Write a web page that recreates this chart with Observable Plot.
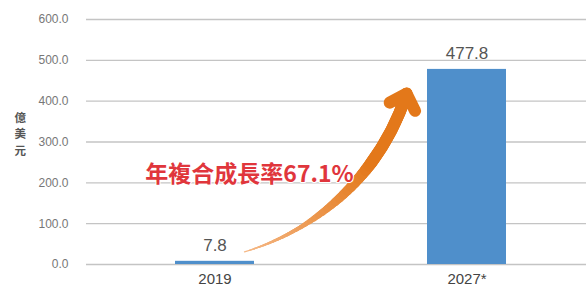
<!DOCTYPE html>
<html><head><meta charset="utf-8">
<script src="https://cdn.jsdelivr.net/npm/d3@7"></script>
<script src="https://cdn.jsdelivr.net/npm/@observablehq/plot@0.6"></script>
<style>
body{margin:0;background:#fff;}
#chart{width:586px;height:288px;overflow:hidden;}
</style></head><body><div id="chart"></div>
<script>
const years = ["2019", "2027*"];
const values = [7.8, 477.8];
const yTicks = [0, 100, 200, 300, 400, 500, 600];
const yLabel = "億美元";
const cagrText = "年複合成長率67.1%";

const data = years.map((year, i) => ({year, value: values[i]}));
const link = [{x1: years[0], y1: values[0], x2: years[1], y2: values[1]}];

const cjk = '"Noto Sans CJK TC", "Noto Sans CJK SC", sans-serif';
const num = '"Liberation Sans", Arial, sans-serif';

// tapered orange arrow built from stacked arcs
const widthAt = d3.scaleLinear().domain([84, 140, 190, 232]).range([1.2, 4, 9, 12]).clamp(true);
const colorAt = d3.scaleLinear().domain([84, 232]).range(["#f5b886", "#e3781a"]).interpolate(d3.interpolateRgb).clamp(true);
const arrowCommon = {x1: "x1", y1: "y1", x2: "x2", y2: "y2", bend: -40.8, dx: -54, insetEnd: 25};
const shaft = d3.range(84, 233, 5).map(s => Plot.arrow(link, {
  ...arrowCommon, insetStart: s, stroke: colorAt(s), strokeWidth: widthAt(s), headLength: 0
}));
const head = Plot.arrow(link, {
  ...arrowCommon, insetStart: 232, stroke: "#e3781a", strokeWidth: 12, headLength: 2.4, headAngle: 88
});

const chart = Plot.plot({
  width: 586,
  height: 288,
  marginTop: 19,
  marginBottom: 24,
  marginLeft: 86,
  marginRight: 0,
  style: {background: "white", fontFamily: num},
  x: {domain: years, range: [86, 594], paddingInner: 0.687, paddingOuter: 0.349, label: null},
  y: {domain: [0, 600], label: null},
  marks: [
    Plot.ruleY(yTicks, {stroke: "#c4c4c4", strokeWidth: 1.3}),
    Plot.barY(data, {x: "year", y: "value", fill: "#4f8fcb"}),
    Plot.axisY(yTicks, {tickSize: 0, tickPadding: 18, tickFormat: d3.format(".1f"), fontSize: 12, color: "#777", label: null}),
    Plot.axisX({tickSize: 0, tickPadding: 9, fontSize: 15, color: "#444", label: null}),
    ...shaft,
    head,
    Plot.text(data, {x: "year", y: "value", text: d => d3.format(".1f")(d.value), dy: -16, fontSize: 17, fill: "#555", fontFamily: num}),
    Plot.text([yLabel], {frameAnchor: "left", dx: -72, dy: -9, text: d => d.split("").join("\n"), lineHeight: 1.46, fontSize: 11.5, fontWeight: "bold", fill: "#555", fontFamily: cjk}),
    Plot.text([cagrText], {frameAnchor: "top-left", dx: 163, dy: 146, textAnchor: "middle", fontSize: 23, fontWeight: "bold", fill: "#e0363c", stroke: "white", strokeWidth: 2, paintOrder: "stroke", fontFamily: cjk})
  ]
});
document.getElementById("chart").appendChild(chart);
</script>
</body></html>
